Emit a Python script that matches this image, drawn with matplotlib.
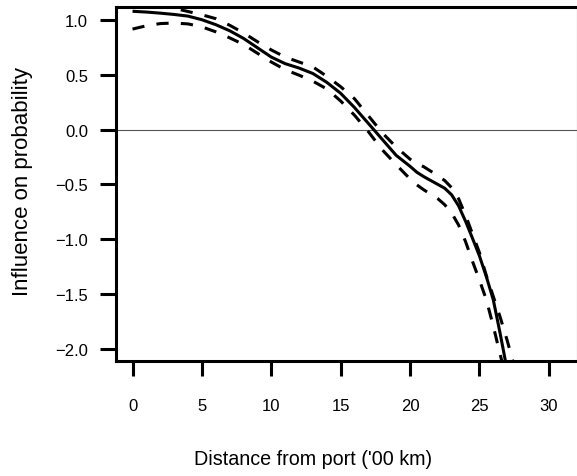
import matplotlib
matplotlib.use("Agg")
import matplotlib.pyplot as plt

plt.rcParams['font.family'] = ['Liberation Sans', 'DejaVu Sans']

# Data
dist = [0, 1, 2, 3, 4, 5, 6, 7, 8, 9, 10, 11, 12, 13, 14, 15, 16, 17, 18, 19,
        20, 20.5, 21, 21.5, 22, 22.5, 23, 23.5, 24, 24.5, 25, 25.5, 26, 26.5,
        27, 27.5]
fit = [1.077, 1.07, 1.06, 1.048, 1.033, 1.0, 0.955, 0.9, 0.83, 0.745, 0.66,
       0.60, 0.56, 0.51, 0.43, 0.33, 0.2, 0.055, -0.09, -0.235,
       -0.335, -0.39, -0.43, -0.465, -0.5, -0.535, -0.595, -0.695, -0.835,
       -0.99, -1.15, -1.34, -1.55, -1.86, -2.19, -2.5]
upper = [1.16, 1.15, 1.13, 1.105, 1.075, 1.045, 1.01, 0.95, 0.88, 0.80, 0.725,
         0.66, 0.615, 0.57, 0.485, 0.39, 0.28, 0.125, -0.03, -0.16,
         -0.27, -0.31, -0.34, -0.38, -0.42, -0.465, -0.53, -0.63, -0.78,
         -0.95, -1.12, -1.33, -1.52, -1.71, -1.92, -2.15]
lower = [0.915, 0.945, 0.965, 0.97, 0.962, 0.935, 0.89, 0.835, 0.775, 0.695,
         0.615, 0.545, 0.495, 0.44, 0.37, 0.26, 0.13, -0.02, -0.185, -0.32,
         -0.45, -0.505, -0.55, -0.59, -0.63, -0.685, -0.76, -0.87, -1.02,
         -1.2, -1.37, -1.55, -1.79, -2.05, -2.3, -2.6]

xticks = [0, 5, 10, 15, 20, 25, 30]
yticks = [-2.0, -1.5, -1.0, -0.5, 0.0, 0.5, 1.0]
xlabel = "Distance from port ('00 km)"
ylabel = "Influence on probability"

W, H = 577, 477
fig = plt.figure(figsize=(W / 100, H / 100), dpi=100)
ax = fig.add_axes([116 / W, 1 - 362 / H, (576.5 - 116) / W, (362 - 8) / H])

ax.axhline(0, color='#555555', lw=0.8, zorder=1)
ax.plot(dist, fit, color='black', lw=2.2, solid_capstyle='butt',
        solid_joinstyle='round', zorder=3)
ax.plot(dist, upper, color='black', lw=2.2, dashes=(4, 4), zorder=3)
ax.plot(dist, lower, color='black', lw=2.2, dashes=(4, 4), zorder=3)

ax.set_xlim(-1.19, 32.0)
ax.set_ylim(-2.109, 1.116)

for side in ['left', 'bottom', 'top']:
    ax.spines[side].set_linewidth(2.2)
    ax.spines[side].set_color('black')
ax.spines['right'].set_linewidth(0.8)
ax.spines['right'].set_color('#888888')

ax.set_xticks(xticks)
ax.set_xticklabels([str(v) for v in xticks])
ax.set_yticks(yticks)
ax.set_yticklabels([f"{v:.1f}".replace('-', '\u2212') for v in yticks])
ax.tick_params(axis='y', direction='out', length=11.5, width=2.2, pad=8.5,
               labelsize=12)
ax.tick_params(axis='x', direction='out', length=11, width=2.2, pad=15.5,
               labelsize=12)

fig.text(313.5 / W, 1 - 460 / H, xlabel, ha='center', va='center',
         fontsize=14.2)
fig.text(23 / W, 1 - 182 / H, ylabel, ha='center', va='center', fontsize=16,
         rotation=90)

fig.savefig('out.png', dpi=100)
